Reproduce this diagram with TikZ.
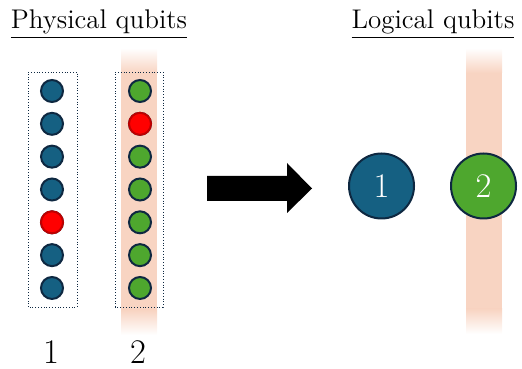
\documentclass[tikz,border=0pt]{standalone}
\usepackage{tikz}
\usetikzlibrary{calc,positioning}

\definecolor{qblue}{HTML}{156082}
\definecolor{qgreen}{HTML}{4EA72E}
\definecolor{qred}{HTML}{FF0000}
\definecolor{qdark}{HTML}{0E2841}
\definecolor{qband}{HTML}{F8D4C2}

\tikzset{
	physq/.style={circle,draw=qdark,line width=1pt,minimum size=11pt,inner sep=0pt},
	logq/.style={circle,draw=qdark,line width=1pt,minimum size=32.5pt,inner sep=0pt,text=white,font=\LARGE},
	title/.style={font=\fontsize{13.5}{16}\selectfont,anchor=base},
	collabel/.style={font=\LARGE,anchor=base},
	groupbox/.style={draw=qdark,densely dotted,line width=0.4pt},
}

\newcommand{\qband}[3]{% x left, x right, bottom
	\fill[qband] (#1,#3+25) rectangle (#2,320-25);
	\shade[top color=white,bottom color=qband] (#1,320-25) rectangle (#2,320);
	\shade[top color=qband,bottom color=white] (#1,#3) rectangle (#2,#3+25);
}

\begin{document}
\begin{tikzpicture}[x=0.5pt,y=0.5pt]
	\useasboundingbox (0,0) rectangle (522,368);

	% bands
	\qband{121}{157}{33}
	\qband{466}{502}{34}

	% titles
	\node[title] (phys) at (99,339) {\underline{Physical qubits}};
	\node[title] (logi) at (433,339) {\underline{Logical qubits}};

	% physical qubit columns
	\draw[groupbox] (28,61) rectangle (77,296);
	\draw[groupbox] (115,61) rectangle (163,296);
	\foreach \i in {0,...,6}{
			\node[physq,fill=qblue] (a\i) at (52,277-32.83*\i) {};
			\node[physq,fill=qgreen] (b\i) at (140,277-32.83*\i) {};
		}
	\node[physq,fill=qred,draw=qred!75!black] at (a4) {};
	\node[physq,fill=qred,draw=qred!75!black] at (b1) {};

	\node[collabel] (c1) at (51,5) {1};
	\node[collabel] (c2) at (138,5) {2};

	% arrow
	\fill[black] (207,167) -- (287,167) -- (287,155) -- (312,179.5) -- (287,205) -- (287,192) -- (207,192) -- cycle;

	% logical qubits
	\node[logq,fill=qblue] (l1) at (381.5,182) {1};
	\node[logq,fill=qgreen] (l2) at (483.5,182) {2};
\end{tikzpicture}
\end{document}
